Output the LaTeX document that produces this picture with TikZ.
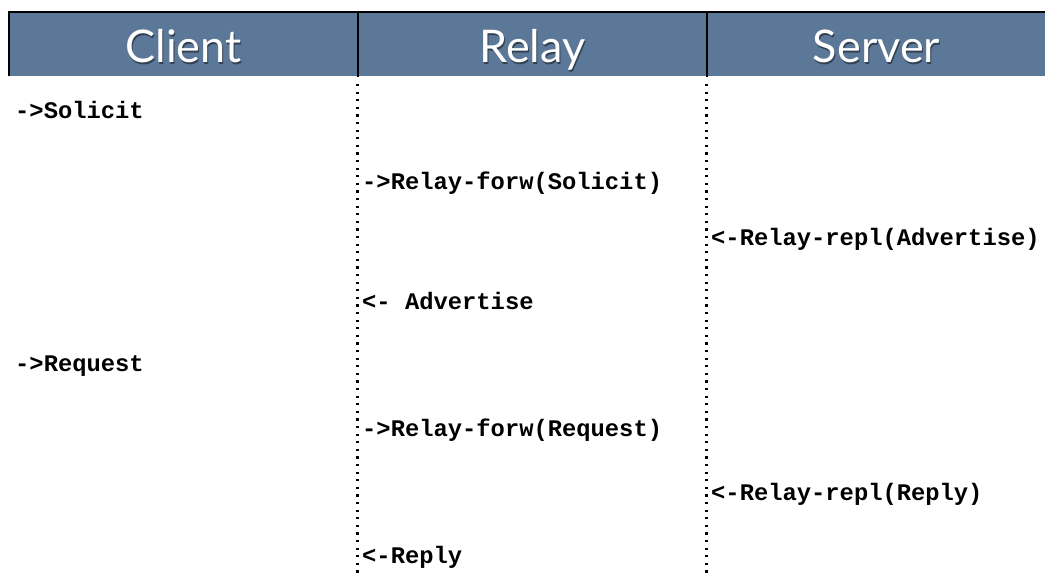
\documentclass[tikz,border=0pt]{standalone}
\usepackage{fontspec}
\setmainfont{Lato}
\newfontfamily\msgfont{Liberation Mono}
\definecolor{bandblue}{RGB}{91,120,152}
\tikzset{
  x=1pt, y=-1pt,
  head/.style={font=\fontsize{45}{50}\selectfont, text=white, anchor=base, inner sep=0pt},
  headshadow/.style={font=\fontsize{45}{50}\selectfont, text=black, opacity=0.45, anchor=base, inner sep=0pt},
  msg/.style={font=\msgfont\bfseries\fontsize{23.8}{28}\selectfont, anchor=base west, inner sep=0pt},
  lifeline/.style={line width=2.2pt, dash pattern=on 2.2pt off 5.4pt},
  divider/.style={line width=2pt}
}
\begin{document}
\begin{tikzpicture}
\useasboundingbox (0,0) rectangle (1045,577);
% header band
\fill[bandblue] (9,12) rectangle (1045,76.5);
\draw[line width=2.2pt] (9,76.5) -- (9,12) -- (1045,12);
% column positions
\coordinate (d1top) at (357.5,12);
\coordinate (d1mid) at (357.5,77);
\coordinate (d1bot) at (357.5,577);
\coordinate (d2top) at (706.5,12);
\coordinate (d2mid) at (706.5,77);
\coordinate (d2bot) at (706.5,577);
\draw[divider] (d1top) -- (d1mid);
\draw[divider] (d2top) -- (d2mid);
\draw[lifeline] ([yshift=-7pt]d1mid) -- (d1bot);
\draw[lifeline] ([yshift=-7pt]d2mid) -- (d2bot);
% column titles with drop shadow
\node[headshadow] at (184.5,65) {Client};
\node[headshadow] at (533.5,65) {Relay};
\node[headshadow] at (877.5,65) {Server};
\node[head] (client) at (183.5,63) {Client};
\node[head] (relay) at (532.5,63) {Relay};
\node[head] (server) at (876.5,63) {Server};
% messages
\node[msg] (m1) at (15,119) {->Solicit};
\node[msg] (m2) at (362,190) {->Relay-forw(Solicit)};
\node[msg] (m3) at (711,246) {<-Relay-repl(Advertise)};
\node[msg] (m4) at (362,310) {<- Advertise};
\node[msg] (m5) at (15,372) {->Request};
\node[msg] (m6) at (362,436) {->Relay-forw(Request)};
\node[msg] (m7) at (711,500) {<-Relay-repl(Reply)};
\node[msg] (m8) at (362,563) {<-Reply};
\end{tikzpicture}
\end{document}
